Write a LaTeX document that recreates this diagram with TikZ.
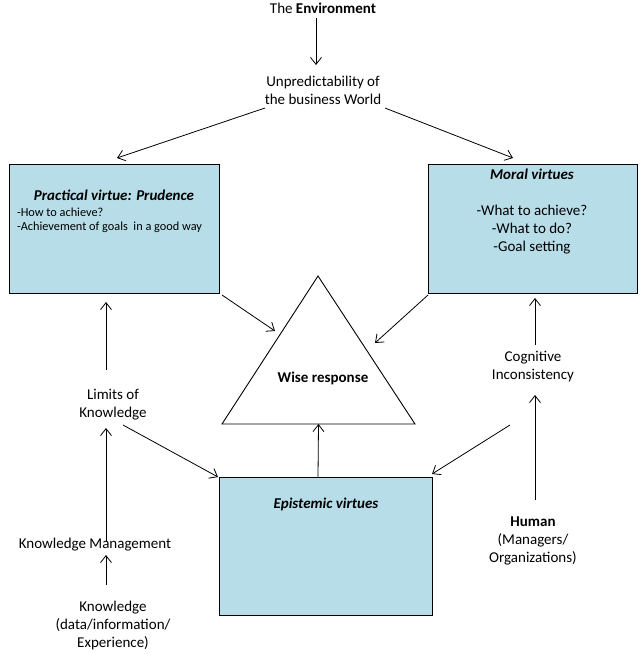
\documentclass[tikz,border=0pt]{standalone}
\usepackage{fontspec}
\setmainfont{Carlito}
\usetikzlibrary{arrows.meta,calc}
\definecolor{boxblue}{RGB}{183,221,232}
\begin{document}
\begin{tikzpicture}[x=1pt,y=-1pt,
  every node/.style={inner sep=0pt,outer sep=0pt},
  txt/.style={font=\fontsize{15}{18}\selectfont,align=center},
  small/.style={font=\fontsize{12.3}{15}\selectfont,anchor=west},
  vbox/.style={draw=black,line width=0.9pt,fill=boxblue,minimum width=#1},
  arr/.style={line width=0.8pt,-{Straight Barb[length=7pt,width=11pt,line width=0.8pt]}}]
\useasboundingbox (0,0) rectangle (640,654);
% boxes
\node[vbox=210pt,minimum height=129pt] (prac) at (114,228.5) {};
\node[vbox=209pt,minimum height=129pt] (moral) at (532.5,228.5) {};
\node[vbox=213pt,minimum height=138pt] (epi) at (325.5,546) {};
% triangle
\coordinate (tA) at (318,276);
\coordinate (tL) at (222,424);
\coordinate (tR) at (415,424);
\coordinate (tB) at ($(tL)!0.5!(tR)$);
\draw[line width=0.9pt,fill=white] (tA) -- (tL) -- (tR) -- cycle;
% texts
\node[txt] (env) at (323,8) {The \textbf{Environment}};
\node[txt] (unp) at (323,90) {Unpredictability of\\the business World};
\node[txt] (ptitle) at (114,195) {\textbf{\itshape Practical virtue: Prudence}};
\node[small] (p1) at (17,212) {-How to achieve?};
\node[small] (p2) at (17,227) {-Achievement of goals~ in a good way};
\node[txt] (mtitle) at (532,174) {\textbf{\itshape Moral virtues}};
\node[txt] (mlines) at (532,229.5) {-What to achieve?\\-What to do?\\-Goal setting};
\node[txt] (wise) at (323,378) {\textbf{Wise response}};
\node[txt] (etitle) at (326,504) {\textbf{\itshape Epistemic virtues}};
\node[txt] (lim) at (113,405) {Limits of\\Knowledge};
\node[txt] (km) at (95,545) {Knowledge Management};
\node[txt] (know) at (113,625) {Knowledge\\(data/information/\\Experience)};
\node[txt] (cog) at (533,367) {Cognitive\\Inconsistency};
\node[txt] (hum) at (533,541) {\textbf{Human}\\(Managers/\\Organizations)};
% connectors
\draw[arr] ($(env)+(-7,10)$) -- ($(unp)+(-7,-25)$);
\draw[arr] ($(unp)+(-58,18)$) -- ($(prac.north)+(3,-6)$);
\draw[arr] ($(unp)+(62,18)$) -- ($(moral.north)+(-19.5,-6)$);
\draw[arr] ($(prac.south east)+(3,2)$) -- ($(tA)+(-43,55)$);
\draw[arr] ($(moral.south west)+(0,2)$) -- ($(tA)+(57,67)$);
\draw[arr] ($(lim)+(-7,-35)$) -- ($(prac.south)+(-8,9)$);
\draw[arr] ($(lim)+(10,20)$) -- ($(epi.north west)+(-1,0)$);
\draw[arr] ($(km)+(11,-3)$) -- ($(lim)+(-7,23)$);
\draw[arr] ($(know)+(-7,-40)$) -- ($(km)+(11,10)$);
\draw[arr] ($(epi.north)+(-7.5,0)$) -- (tB);
\draw[arr] ($(cog)+(2,-22)$) -- ($(moral.south)+(2.5,5)$);
\draw[arr] ($(hum)+(2,-41)$) -- ($(cog)+(2,28)$);
\draw[arr] ($(cog)+(-23,58)$) -- ($(epi.north east)+(0,-3)$);
\end{tikzpicture}
\end{document}
